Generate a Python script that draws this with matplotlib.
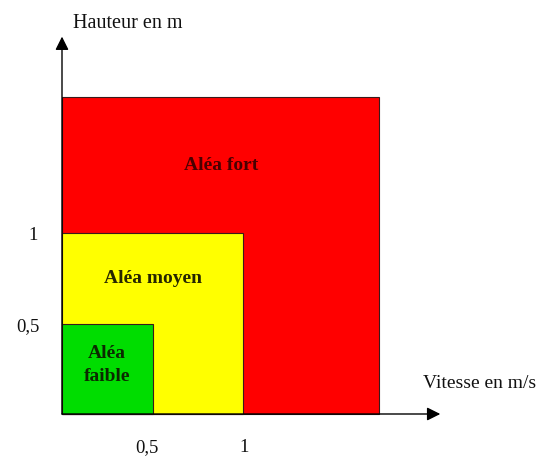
import matplotlib
matplotlib.use("Agg")
import matplotlib.pyplot as plt
from matplotlib.patches import Rectangle

# Data
zones = ["Aléa fort", "Aléa moyen", "Aléa\nfaible"]
zone_speed = [1.75, 1.0, 0.5]     # max vitesse (m/s)
zone_height = [1.75, 1.0, 0.5]    # max hauteur (m)
zone_colors = ["#FF0000", "#FFFF00", "#00DD00"]
zone_text_colors = ["#4a0000", "#262600", "#0b2a00"]
x_ticks = [0.5, 1.0]
x_tick_labels = ["0,5", "1"]
y_ticks = [0.5, 1.0]
y_tick_labels = ["0,5", "1"]
x_label = "Vitesse en m/s"
y_label = "Hauteur en m"

W, H = 539, 457
x0_px, y0_px, scale = 62, 414, 181.0

fig = plt.figure(figsize=(W / 100, H / 100), dpi=100)
ax = fig.add_axes([0, 0, 1, 1])
ax.set_xlim(-x0_px / scale, (W - x0_px) / scale)
ax.set_ylim(-(H - y0_px) / scale, y0_px / scale)
ax.axis("off")

serif = ["Liberation Serif", "DejaVu Serif"]

for sx, hy, c in zip(zone_speed, zone_height, zone_colors):
    ax.add_patch(Rectangle((0, 0), sx, hy, facecolor=c, edgecolor="#3a1a1a", linewidth=0.8, zorder=2))

# zone labels
text_pos = [(0.88, 1.375), (0.50, 0.75), (0.25, 0.27)]
for (tx, ty), lab, tc in zip(text_pos, zones, zone_text_colors):
    ax.text(tx, ty, lab, ha="center", va="center", fontsize=14, fontweight="bold",
            family=serif, color=tc, zorder=5, linespacing=1.5)

# axes arrows
arrow_kw = dict(arrowstyle="-|>,head_length=0.8,head_width=0.4", color="black", lw=1.0,
                shrinkA=0, shrinkB=0)
ax.annotate("", xy=(0, 2.085), xytext=(0, 0), arrowprops=arrow_kw, zorder=6)
ax.annotate("", xy=(2.09, 0), xytext=(0, 0), arrowprops=arrow_kw, zorder=6)

ax.text(0.06, 2.16, y_label, ha="left", va="center", fontsize=14.5, family=serif, color="#111111")
ax.text(1.995, 0.17, x_label, ha="left", va="center", fontsize=14, family=serif, color="#111111")

for v, lab in zip(x_ticks, x_tick_labels):
    off = -0.03 if lab == "0,5" else 0.005
    ax.text(v + off, -0.185, lab, ha="center", va="center", fontsize=13.5, family=serif, color="#111111")
for v, lab in zip(y_ticks, y_tick_labels):
    ax.text(-0.19 if lab == "0,5" else -0.16, v - 0.015, lab, ha="center", va="center",
            fontsize=13.5, family=serif, color="#111111")

fig.savefig("out.png", dpi=100, facecolor="white")
